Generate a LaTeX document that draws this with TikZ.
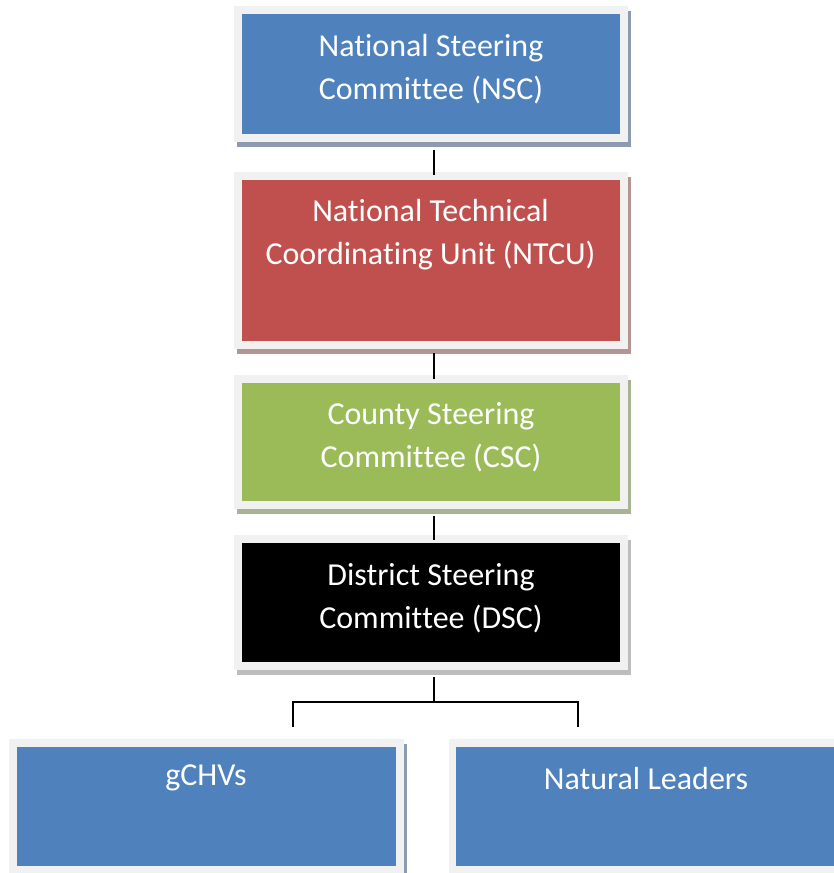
\documentclass[tikz,border=0pt]{standalone}
\usepackage{fontspec}
\setmainfont{Carlito}[Ligatures=NoCommon]
\usetikzlibrary{shadows}
\newcommand\nlg{\kern0pt{}}
\definecolor{cblue}{HTML}{4F81BD}
\definecolor{cred}{HTML}{C0504D}
\definecolor{cgreen}{HTML}{9BBB59}
\definecolor{cframe}{HTML}{F1F1F1}
\definecolor{sblue}{HTML}{8C9BB0}
\definecolor{sred}{HTML}{B59594}
\definecolor{sgreen}{HTML}{A7B393}
\definecolor{sgray}{HTML}{BDBDBD}
\tikzset{
  frame/.style={fill=cframe, draw=none, inner sep=0, minimum width=394pt,
    general shadow={fill=#1, shadow xshift=3pt, shadow yshift=-5pt}},
  lbl/.style={text=white, align=center, inner sep=0,
    font=\fontsize{32}{43}\selectfont},
  conn/.style={draw=black, line width=2pt}
}
\begin{document}
\begin{tikzpicture}[x=1pt,y=-1pt]
\useasboundingbox (0,0) rectangle (833,873);
% frames
\node[frame=sblue, minimum height=136pt] (nsc) at (431,74) {};
\node[frame=sred, minimum height=177pt] (ntcu) at (431,260.5) {};
\node[frame=sgreen, minimum height=134pt] (csc) at (431,442) {};
\node[frame=sgray, minimum height=135pt] (dsc) at (431,602.5) {};
\node[frame=sblue, minimum height=135pt, minimum width=395pt] (gchv) at (206.5,806.5) {};
\node[frame=sblue, minimum height=135pt, minimum width=395pt] (nl) at (646,806.5) {};
% inner fills
\fill[cblue] ([shift={(8,8)}]nsc.north west) rectangle ([shift={(-8,-8)}]nsc.south east);
\fill[cred] ([shift={(8,8)}]ntcu.north west) rectangle ([shift={(-8,-8)}]ntcu.south east);
\fill[cgreen] ([shift={(8,8)}]csc.north west) rectangle ([shift={(-8,-8)}]csc.south east);
\fill[black] ([shift={(8,8)}]dsc.north west) rectangle ([shift={(-8,-8)}]dsc.south east);
\fill[cblue] ([shift={(8,8)}]gchv.north west) rectangle ([shift={(-8,-8)}]gchv.south east);
\fill[cblue] ([shift={(8,8)}]nl.north west) rectangle ([shift={(-8,-8)}]nl.south east);
% labels
\node[lbl] (nsct) at (431,69.5) {Nat\nlg ional Steering\\Commit\nlg tee (NSC)};
\node[lbl] (ntcut) at (430.5,234.5) {Nat\nlg ional Technical\\Coordinat\nlg ing Unit (NTCU)};
\node[lbl] (csct) at (431,437.5) {County Steering\\Commit\nlg tee (CSC)};
\node[lbl] (dsct) at (431,598.5) {District Steering\\Commit\nlg tee (DSC)};
\node[lbl] (gchvt) at (206,778) {gCHVs};
\node[lbl] (nlt) at (646,778) {Natural Leaders};
% connectors
\draw[conn] ([shift={(3,8)}]nsc.south) -- ([shift={(3,3)}]ntcu.north);
\draw[conn] ([shift={(3,4)}]ntcu.south) -- ([shift={(3,4)}]csc.north);
\draw[conn] ([shift={(3,7)}]csc.south) -- ([shift={(3,5)}]dsc.north);
\coordinate (split) at (434,702);
\coordinate (lft) at (293,727);
\coordinate (rgt) at (578,727);
\draw[conn] ([shift={(3,7)}]dsc.south) -- (split);
\draw[conn, line join=miter] (lft) |- (split) -| (rgt);
\end{tikzpicture}
\end{document}
